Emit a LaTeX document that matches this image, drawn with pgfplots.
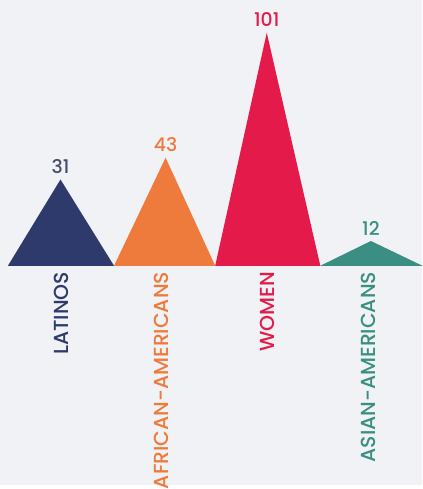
\documentclass[border=0pt]{standalone}
\usepackage{fontspec}
\setmainfont{Poppins}[BoldFont={Poppins Medium}]
\usepackage{pgfplots}
\pgfplotsset{compat=1.18}
\definecolor{bg}{HTML}{F0F2F6}
\definecolor{latino}{HTML}{2E3A6B}
\definecolor{latinonum}{HTML}{454C6C}
\definecolor{african}{HTML}{EE7A3C}
\definecolor{women}{HTML}{E31A4A}
\definecolor{asian}{HTML}{3A8F82}
\begin{document}
\begin{tikzpicture}
\begin{axis}[x=1pt,y=1pt,xmin=0,xmax=426,ymin=-221,ymax=268,hide axis,clip=false]
\addplot[draw=none,fill=bg] coordinates {(0,-221)(426,-221)(426,268)(0,268)} -- cycle;
% triangles: base edges and apex (visual heights)
\addplot[draw=none,fill=latino] coordinates {(8,0)(61,87)(115,0)} -- cycle;
\addplot[draw=none,fill=african] coordinates {(115,0)(167,109)(217,0)} -- cycle;
\addplot[draw=none,fill=women] coordinates {(217,0)(269,235)(323,0)} -- cycle;
\addplot[draw=none,fill=asian] coordinates {(323,0)(374,25)(426,0)} -- cycle;
% value labels
\node[anchor=base,text=latinonum,font=\bfseries\fontsize{19}{19}\selectfont] at (axis cs:61,93) {31};
\node[anchor=base,text=african,font=\bfseries\fontsize{19}{19}\selectfont] at (axis cs:167,115) {43};
\node[anchor=base,text=women,font=\bfseries\fontsize{19}{19}\selectfont] at (axis cs:269,241) {101};
\node[anchor=base,text=asian,font=\bfseries\fontsize{19}{19}\selectfont] at (axis cs:374,31) {12};
% category labels
\node[rotate=90,anchor=east,inner sep=0pt,text=latino,font=\bfseries\fontsize{20.5}{20.5}\selectfont] at (axis cs:62,-6) {LATINOS};
\node[rotate=90,anchor=east,inner sep=0pt,text=african,font=\bfseries\fontsize{20.5}{20.5}\selectfont] at (axis cs:163,-6) {AFRICAN-AMERICANS};
\node[rotate=90,anchor=east,inner sep=0pt,text=women,font=\bfseries\fontsize{20.5}{20.5}\selectfont] at (axis cs:270,-6) {WOMEN};
\node[rotate=90,anchor=east,inner sep=0pt,text=asian,font=\bfseries\fontsize{20.5}{20.5}\selectfont] at (axis cs:372,-6) {ASIAN-AMERICANS};
\end{axis}
\end{tikzpicture}
\end{document}
